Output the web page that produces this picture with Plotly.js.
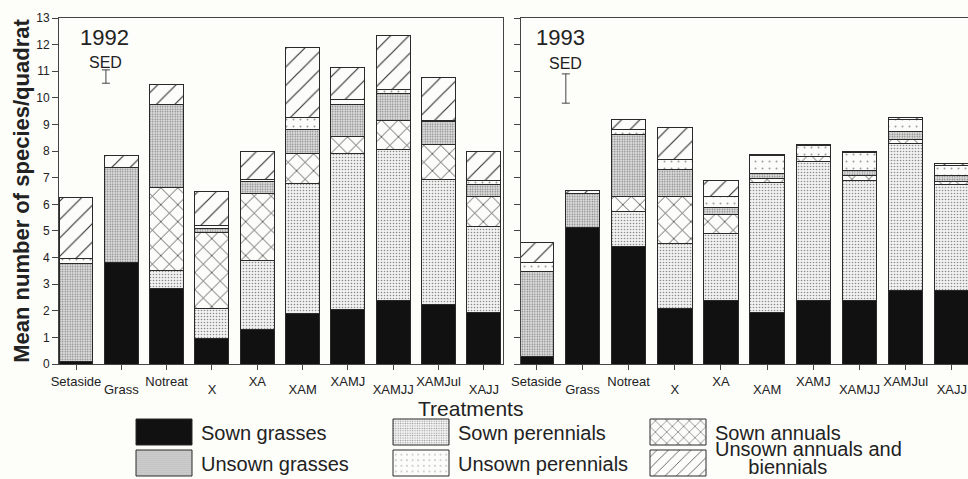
<!DOCTYPE html>
<html><head><meta charset="utf-8">
<script src="https://cdn.plot.ly/plotly-3.0.1.min.js"></script>
<style>html,body{margin:0;padding:0;background:#fdfdfa;} #chart{width:968px;height:479px;}</style>
</head><body><div id="chart"></div>
<script>
// ---- categories & labels ----
const treatments = ['Setaside','Grass','Notreat','X','XA','XAM','XAMJ','XAMJJ','XAMJul','XAJJ'];
const componentNames = ['Sown grasses','Sown perennials','Sown annuals','Unsown grasses','Unsown perennials','Unsown annuals and<br>\u00a0\u00a0\u00a0\u00a0\u00a0\u00a0biennials'];
const yearLabels = ['1992','1993'];
const yTicks = [0,1,2,3,4,5,6,7,8,9,10,11,12,13];

// ---- 1992 (mean number of species per quadrat) ----
const sownGrasses1992      = [0.08, 3.80, 2.85, 0.95, 1.30, 1.90, 2.05, 2.40, 2.25, 1.95];
const sownPerennials1992   = [0.00, 0.00, 0.65, 1.15, 2.60, 4.90, 5.85, 5.65, 4.70, 3.20];
const sownAnnuals1992      = [0.00, 0.00, 3.15, 2.85, 2.50, 1.10, 0.65, 1.10, 1.30, 1.15];
const unsownGrasses1992    = [3.70, 3.60, 3.10, 0.15, 0.45, 0.90, 1.20, 1.00, 0.85, 0.45];
const unsownPerennials1992 = [0.20, 0.00, 0.00, 0.10, 0.10, 0.45, 0.20, 0.15, 0.05, 0.15];
const unsownAnnuals1992    = [2.27, 0.45, 0.75, 1.30, 1.05, 2.65, 1.20, 2.05, 1.60, 1.10];

// ---- 1993 ----
const sownGrasses1993      = [0.30, 5.12, 4.43, 2.07, 2.38, 1.94, 2.40, 2.40, 2.76, 2.76];
const sownPerennials1993   = [0.00, 0.00, 1.30, 2.47, 2.53, 4.88, 5.20, 4.48, 5.53, 3.97];
const sownAnnuals1993      = [0.00, 0.00, 0.57, 1.75, 0.69, 0.16, 0.19, 0.20, 0.13, 0.12];
const unsownGrasses1993    = [3.17, 1.30, 2.33, 1.03, 0.29, 0.19, 0.00, 0.19, 0.31, 0.22];
const unsownPerennials1993 = [0.35, 0.00, 0.19, 0.35, 0.40, 0.65, 0.42, 0.68, 0.46, 0.38];
const unsownAnnuals1993    = [0.74, 0.10, 0.38, 1.21, 0.59, 0.06, 0.02, 0.03, 0.07, 0.09];

// ---- standard error of difference ----
const sedValues = [0.5, 1.1];

// ---------------------------------------------------------------
const FONT = "'Liberation Sans', Arial, Helvetica, sans-serif";
const INK = '#222222';
const BG = '#fdfdfa';
const idx = treatments.map((_, i) => i);

const styles = [
  {color:'#111111', pattern:{shape:''}},
  {color:'#e4e4e4', pattern:{shape:'.', fgcolor:'#8a8a8a', bgcolor:'#f2f2f2', size:3, solidity:0.22}},
  {color:'#ffffff', pattern:{shape:'x', fgcolor:'#333333', bgcolor:'#fcfcfa', size:12, solidity:0.12}},
  {color:'#d2d2d2', pattern:{shape:'.', fgcolor:'#7a7a7a', bgcolor:'#e0e0e0', size:2.5, solidity:0.3}},
  {color:'#f7f7f7', pattern:{shape:'.', fgcolor:'#999', bgcolor:'#fcfcfa', size:7, solidity:0.06}},
  {color:'#ffffff', pattern:{shape:'/', fgcolor:'#333333', bgcolor:'#fcfcfa', size:13, solidity:0.09}}
];

const series1992 = [sownGrasses1992, sownPerennials1992, sownAnnuals1992, unsownGrasses1992, unsownPerennials1992, unsownAnnuals1992];
const series1993 = [sownGrasses1993, sownPerennials1993, sownAnnuals1993, unsownGrasses1993, unsownPerennials1993, unsownAnnuals1993];

const data = [];
function addYear(series, xa, ya, legend) {
  series.forEach((vals, k) => {
    const st = styles[k];
    const marker = {color: st.color, line:{color:'#2a2a2a', width:1}};
    if (st.pattern.shape) marker.pattern = Object.assign({fillmode:'replace'}, st.pattern);
    data.push({
      type:'bar', x: idx, y: vals, name: componentNames[k], width: 0.75,
      xaxis: xa, yaxis: ya, marker: marker, showlegend: legend, hoverinfo:'skip'
    });
  });
}
addYear(series1992, 'x', 'y', true);
addYear(series1993, 'x2', 'y2', false);

// SED bars
const sedPos = [{x:0.66, y:10.8, xa:'x', ya:'y'}, {x:0.64, y:10.35, xa:'x2', ya:'y2'}];
sedValues.forEach((s, i) => {
  data.push({
    type:'scatter', mode:'markers', x:[sedPos[i].x], y:[sedPos[i].y],
    xaxis: sedPos[i].xa, yaxis: sedPos[i].ya, showlegend:false, hoverinfo:'skip',
    marker:{opacity:0, size:2},
    error_y:{type:'data', symmetric:true, array:[s/2], color:'#444', thickness:1, width:4}
  });
});
// empty traces so the staggered-label axes get drawn
data.push({type:'scatter', x:[], y:[], xaxis:'x3', yaxis:'y', showlegend:false, hoverinfo:'skip'});
data.push({type:'scatter', x:[], y:[], xaxis:'x4', yaxis:'y2', showlegend:false, hoverinfo:'skip'});

const evenText = treatments.map((t, i) => i % 2 === 0 ? t : '');
const oddVals = idx.filter(i => i % 2 === 1);
const oddText = oddVals.map(i => treatments[i]);

const baseX = {
  tickmode:'array', tickvals: idx, ticktext: evenText, ticks:'outside', ticklen:5,
  tickcolor:'#444', showline:true, linecolor:'#444', linewidth:1, mirror:true,
  showgrid:false, zeroline:false, tickfont:{family:FONT, size:13, color:INK}, fixedrange:true
};
const overlayX = {
  tickmode:'array', tickvals: oddVals, ticktext: oddText, ticks:'outside', ticklen:5,
  tickcolor:'rgba(0,0,0,0)', ticklabelstandoff:8, showline:false, showgrid:false, zeroline:false,
  tickfont:{family:FONT, size:13, color:INK}
};
const baseY = {
  range:[0,13], tickmode:'array', tickvals:yTicks, ticks:'outside', ticklen:6, tickcolor:'#444',
  showline:true, linecolor:'#444', linewidth:1, showgrid:false, zeroline:false,
  tickfont:{family:FONT, size:12, color:INK}
};

const L = 59, W = 909, T = 18, H = 346;
const px = v => (v - L) / W;
const py = v => (T + H - v) / H;

const layout = {
  width:968, height:479,
  margin:{l:L, r:0, t:T, b:479 - T - H, autoexpand:false},
  paper_bgcolor:BG, plot_bgcolor:BG,
  barmode:'stack',
  font:{family:FONT, color:INK},
  xaxis: Object.assign({}, baseX, {domain:[0, 0.4884], range:[-0.375, 9.42], anchor:'y'}),
  xaxis3: Object.assign({}, overlayX, {overlaying:'x', anchor:'y', range:[-0.375, 9.42]}),
  yaxis: Object.assign({}, baseY, {anchor:'x', mirror:true,
    title:{text:'Mean number of species/quadrat', font:{family:FONT, size:22, weight:700, color:INK}, standoff:0}}),
  xaxis2: Object.assign({}, baseX, {domain:[0.5083, 1], range:[-0.33, 9.35], anchor:'y2'}),
  xaxis4: Object.assign({}, overlayX, {overlaying:'x2', anchor:'y2', range:[-0.33, 9.35]}),
  yaxis2: Object.assign({}, baseY, {anchor:'x2', mirror:false, showticklabels:false}),
  showlegend:true,
  legend:{
    orientation:'h', x:px(130), xanchor:'left', y:py(417), yanchor:'top',
    traceorder:'normal', entrywidth:178, entrywidthmode:'pixels', itemwidth:64,
    font:{family:FONT, size:20, color:INK}, bgcolor:'rgba(0,0,0,0)', borderwidth:0,
    itemclick:false, itemdoubleclick:false
  },
  annotations:[
    {text:yearLabels[0], xref:'paper', yref:'paper', x:px(104), y:py(38), xanchor:'center', yanchor:'middle', showarrow:false, font:{family:FONT, size:22, color:INK}},
    {text:'SED', xref:'paper', yref:'paper', x:px(105), y:py(62), xanchor:'center', yanchor:'middle', showarrow:false, font:{family:FONT, size:16, color:INK}},
    {text:yearLabels[1], xref:'paper', yref:'paper', x:px(560), y:py(38), xanchor:'center', yanchor:'middle', showarrow:false, font:{family:FONT, size:22, color:INK}},
    {text:'SED', xref:'paper', yref:'paper', x:px(565), y:py(64), xanchor:'center', yanchor:'middle', showarrow:false, font:{family:FONT, size:16, color:INK}},
    {text:'Treatments', xref:'paper', yref:'paper', x:px(470), y:py(408), xanchor:'center', yanchor:'middle', showarrow:false, font:{family:FONT, size:21, color:INK}}
  ]
};

function parseT(el) {
  const m = /translate\(\s*([-\d.e]+)[ ,]+([-\d.e]+)\s*\)/.exec(el.getAttribute('transform') || '');
  return m ? [parseFloat(m[1]), parseFloat(m[2])] : [0, 0];
}
function moveBy(el, dx, dy) {
  const t = parseT(el);
  el.setAttribute('transform', 'translate(' + (t[0] + dx) + ',' + (t[1] + dy) + ')');
}

Plotly.newPlot('chart', data, layout, {staticPlot:true, displayModeBar:false}).then(gd => {
  const leg = gd.querySelector('g.legend');
  if (!leg) return;
  leg.querySelectorAll('[clip-path]').forEach(e => e.removeAttribute('clip-path'));
  const paths = leg.querySelectorAll('.legendpoints path');
  paths.forEach(p => {
    p.setAttribute('d', 'M-28,-13H28V13H-28Z');
    p.style.strokeWidth = '1px';
  });
  // place legend block: first swatch at (136, 419)
  if (paths.length) {
    const r = paths[0].getBoundingClientRect();
    moveBy(leg, 136 - r.left, 419 - r.top);
  }
  const items = leg.querySelectorAll('g.traces');
  if (items.length >= 6) {
    // second row: swatch tops 31 px below the first row's
    const top0 = items[0].querySelector('.legendpoints path').getBoundingClientRect().top;
    for (let i = 3; i < 6; i++) {
      const s = items[i].querySelector('.legendpoints path').getBoundingClientRect();
      moveBy(items[i], 0, top0 + 31 - s.top);
    }
    // two-line entry: tighter lines, first line above the swatch centre
    const last = items[5];
    const txt = last.querySelector('text.legendtext');
    const lines = txt.querySelectorAll('tspan.line');
    if (lines.length > 1) lines[1].setAttribute('dy', '0.9em');
    const s2 = last.querySelector('.legendpoints path').getBoundingClientRect();
    const l0 = lines[0].getBoundingClientRect();
    const target = (s2.top + s2.bottom) / 2 - 14;
    const cur = (l0.top + l0.bottom) / 2;
    txt.setAttribute('transform', 'translate(0,' + (target - cur) + ')');
  }
});
</script>
</body></html>
